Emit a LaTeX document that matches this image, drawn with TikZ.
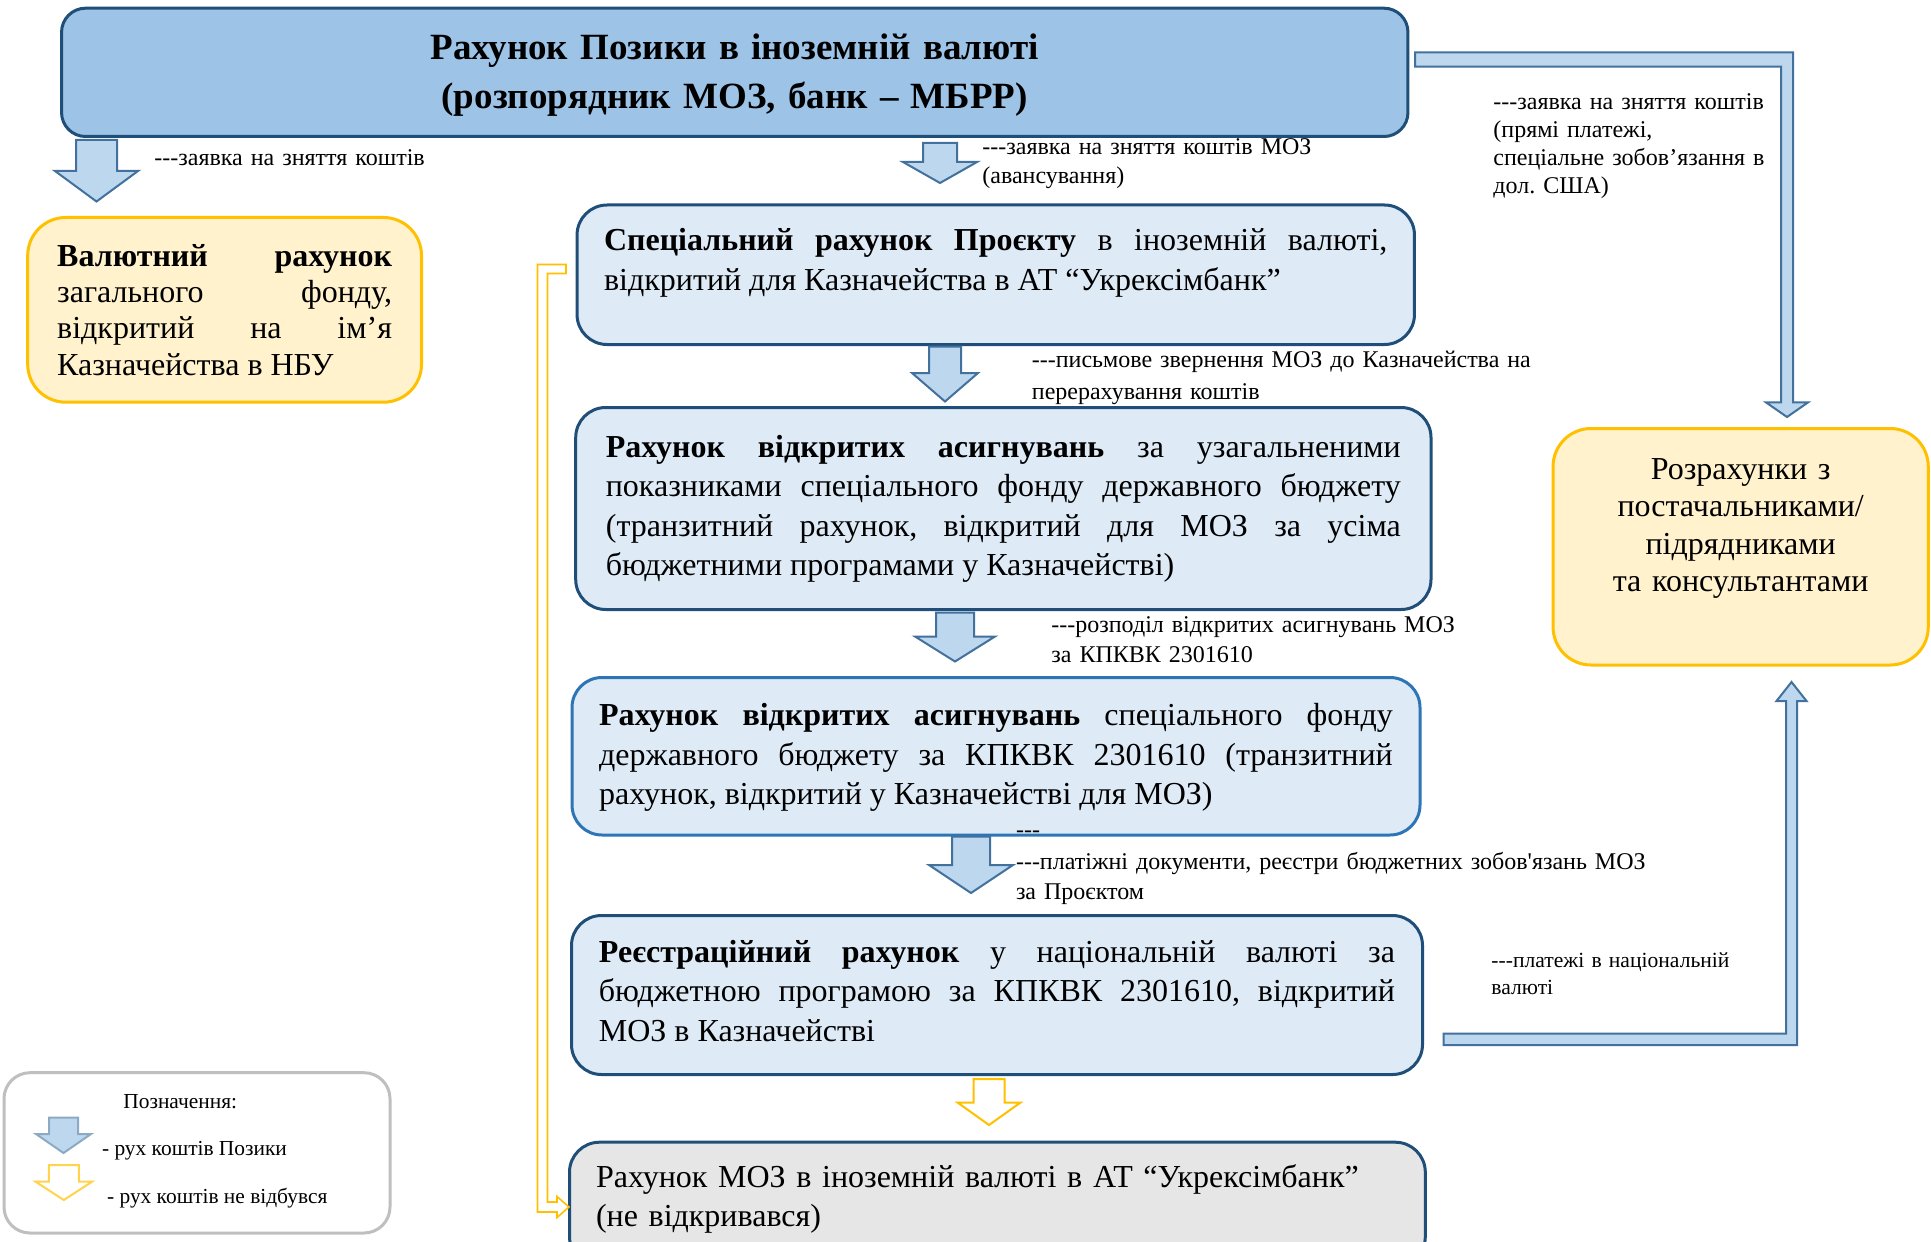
\documentclass[tikz,border=0pt]{standalone}
\usepackage{fontspec}
\setmainfont{Liberation Serif}
\usetikzlibrary{positioning}
\frenchspacing
\definecolor{loanfill}{HTML}{9DC3E6}
\definecolor{boxline}{HTML}{1F4E79}
\definecolor{boxlight}{HTML}{2E75B6}
\definecolor{acctfill}{HTML}{DEEBF7}
\definecolor{greyfill}{HTML}{E7E6E6}
\definecolor{fundfill}{HTML}{FFF2CC}
\definecolor{fundline}{HTML}{FFC000}
\definecolor{flowfill}{HTML}{BDD7EE}
\definecolor{flowline}{HTML}{41719C}
\definecolor{keyline}{HTML}{BFBFBF}
\tikzstyle{account} = [draw=boxline, fill=acctfill, line width=1.5pt, rounded corners=15pt, inner ysep=0pt, anchor=north, align=justify, font=\fontsize{16}{19.75}\selectfont, execute at begin node={\hyphenpenalty=10000\tolerance=10000}]
\tikzstyle{fund} = [draw=fundline, fill=fundfill, line width=1.5pt, rounded corners=19pt, inner ysep=0pt, anchor=north, align=justify, execute at begin node={\hyphenpenalty=10000\tolerance=10000}]
\tikzstyle{note} = [inner sep=0pt, anchor=base west, align=left, text width=260pt, font=\fontsize{12}{14.5}\selectfont]
\tikzstyle{keytext} = [inner sep=0pt, anchor=base west, font=\fontsize{10.7}{12}\selectfont]
\tikzstyle{loanflow} = [draw=flowline, fill=flowfill, line width=1pt]
\tikzstyle{noflow} = [draw=fundline, fill=white, line width=1pt]
% block arrow: style, x, top, neck, tip, shaft half, head half
\newcommand{\fundsarrow}[7]{\draw[#1] (#2-#6,#3) -- (#2+#6,#3) -- (#2+#6,#4) -- (#2+#7,#4) -- (#2,#5) -- (#2-#7,#4) -- (#2-#6,#4) -- cycle;}

\begin{document}
\begin{tikzpicture}[x=0.5pt, y=-0.5pt]
	\useasboundingbox (0,0) rectangle (1931,1241);
	\fill[white] (0,0) rectangle (1931,1241);

	\node [account, fill=loanfill, rounded corners=12pt, align=center, text width=640pt, inner xsep=16.6pt, text height=25.8pt, text depth=38.35pt, font=\fontsize{18.5}{24.2}\selectfont\bfseries] (loan) at (734.75,6.7) {Рахунок Позики в іноземній валюті\\(розпорядник МОЗ, банк – МБРР)};
	\node [fund, text width=167.4pt, inner xsep=14.75pt, text height=24.5pt, text depth=67.85pt, font=\fontsize{16}{18.1}\selectfont] (general) at (224.6,216) {\textbf{Валютний рахунок}\linebreak загального фонду,\linebreak відкритий на ім’я\linebreak Казначейства в НБУ};
	\node [account, text width=391.7pt, inner xsep=13.5pt, text height=22.75pt, text depth=47pt] (special) at (995.75,203.5) {\textbf{Спеціальний рахунок Проєкту} в іноземній валюті,\linebreak відкритий для Казначейства в АТ “Укрексімбанк”};
	\node [account, text width=397.5pt, inner xsep=15.07pt, text height=24.85pt, text depth=76.15pt] (general alloc) at (1003.35,406) {\textbf{Рахунок відкритих асигнувань} за узагальненими\linebreak показниками спеціального фонду державного бюджету\linebreak (транзитний рахунок, відкритий для МОЗ за усіма\linebreak бюджетними програмами у Казначействі)};
	\node [account, draw=boxlight, text width=396.85pt, inner xsep=13.57pt, text height=24pt, text depth=54.75pt] (program alloc) at (996,676) {\textbf{Рахунок відкритих асигнувань} спеціального фонду\linebreak державного бюджету за КПКВК 2301610 (транзитний\linebreak рахунок, відкритий у Казначействі для МОЗ)};
	\node [account, text width=398.1pt, inner xsep=13.7pt, text height=23.35pt, text depth=56.15pt] (register) at (997,914) {\textbf{Реєстраційний рахунок} у національній валюті за\linebreak бюджетною програмою за КПКВК 2301610, відкритий\linebreak МОЗ в Казначействі};
	\node [account, fill=greyfill, align=left, text width=401.4pt, inner xsep=13.25pt, text height=22.5pt, text depth=39.65pt] (moz) at (997.4,1140.7) {Рахунок МОЗ в іноземній валюті в АТ “Укрексімбанк”\\(не відкривався)};
	\node [fund, align=center, text width=170pt, inner xsep=8.8pt, text height=25.35pt, text depth=92.9pt, font=\fontsize{16}{18.7}\selectfont] (suppliers) at (1740.65,427) {Розрахунки з\\постачальниками/\\підрядниками\\та консультантами};
	\node [draw=keyline, fill=white, line width=1.5pt, rounded corners=13pt, minimum width=193pt, minimum height=80.15pt] (legend) at (197,1152.85) {};

	% flows of the loan
	\fundsarrow{loanflow}{96.5}{140}{171}{201.5}{20.5}{41.5}
	\fundsarrow{loanflow}{940}{143}{162}{183}{17}{37}
	\fundsarrow{loanflow}{945}{346.5}{373}{401.5}{16}{33}
	\fundsarrow{loanflow}{955}{612.5}{636.5}{661.5}{19}{40}
	\fundsarrow{loanflow}{971}{836.5}{865}{893}{19}{42}
	\fundsarrow{noflow}{989}{1079}{1102.5}{1125}{15.5}{31.5}
	\draw [loanflow] (1415,52.5) -- (1793,52.5) -- (1793,402.4) -- (1808,402.4) -- (1787,417) -- (1766,402.4) -- (1781,402.4) -- (1781,66.7) -- (1415,66.7) -- cycle;
	\draw [loanflow] (1443.5,1045) -- (1797,1045) -- (1797,701) -- (1806.5,701) -- (1791.5,682) -- (1776.5,701) -- (1786,701) -- (1786,1033.5) -- (1443.5,1033.5) -- cycle;
	\draw [noflow, line width=0.8pt] (566,264.5) -- (537.5,264.5) -- (537.5,1212) -- (557,1212) -- (557,1217.5) -- (569,1207) -- (557,1196.5) -- (557,1202) -- (547.5,1202) -- (547.5,273.5) -- (566,273.5) -- cycle;

	\node [note] (req general) at (154,166) {-{}-{}-заявка на зняття коштів};
	\node [note] (req special) at (982,155) {-{}-{}-заявка на зняття коштів МОЗ\\(авансування)};
	\node [note, text width=150pt, font=\fontsize{12}{13.85}\selectfont] (req direct) at (1493,110) {-{}-{}-заявка на зняття коштів\\(прямі платежі,\\спеціальне зобов’язання в\\дол. США)};
	\node [note, font=\fontsize{12}{16}\selectfont] (letter) at (1031.5,367) {-{}-{}-письмове звернення МОЗ до Казначейства на\\перерахування коштів};
	\node [note, font=\fontsize{12}{15}\selectfont] (split) at (1051,632) {-{}-{}-розподіл відкритих асигнувань МОЗ\\за КПКВК 2301610};
	\node [note] (dashes) at (1015.6,837) {-{}-{}-};
	\node [note, text width=320pt, font=\fontsize{12}{15}\selectfont] (payments) at (1015.6,869) {-{}-{}-платіжні документи, реєстри бюджетних зобов\textquotesingle язань МОЗ\\за Проєктом};
	\node [note, text width=150pt, font=\fontsize{10.8}{13.5}\selectfont] (national) at (1491,967) {-{}-{}-платежі в національній\\валюті};

	% legend
	\node [keytext] (key) at (123,1108) {Позначення:};
	\fundsarrow{loanflow, draw=flowline!60}{63.5}{1117.5}{1134}{1153}{14.5}{27.5}
	\node [keytext] (key loan) at (101.7,1155) {- рух коштів Позики};
	\fundsarrow{noflow, draw=fundline!70}{63.8}{1165}{1181.5}{1200}{15}{28.5}
	\node [keytext] (key none) at (106.7,1203) {- рух коштів не відбувся};
\end{tikzpicture}
\end{document}
